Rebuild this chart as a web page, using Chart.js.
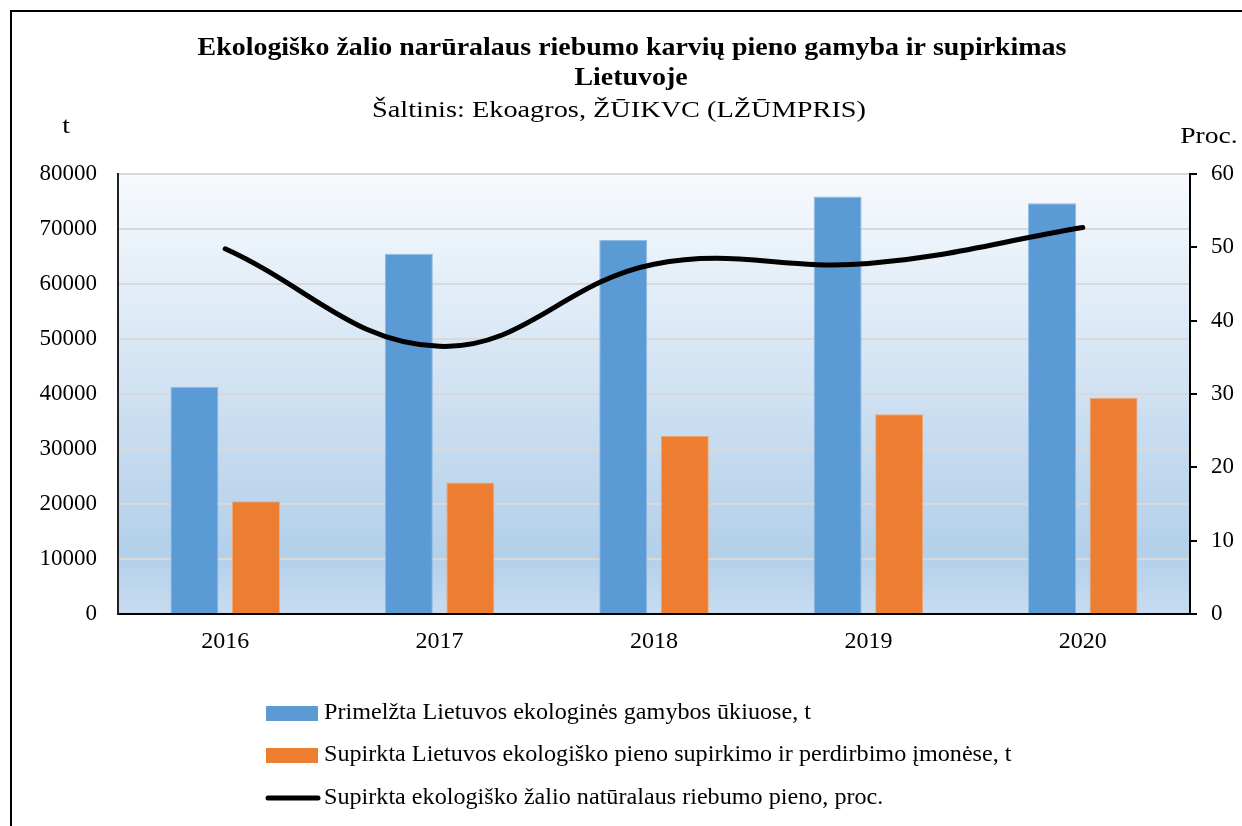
<!DOCTYPE html>
<html>
<head>
<meta charset="utf-8">
<script src="https://cdn.jsdelivr.net/npm/chart.js@4.4.1/dist/chart.umd.min.js"></script>
<style>
    body { margin: 0; background: #ffffff; }
</style>
</head>
<body>
<canvas id="pienas" width="1242" height="826"></canvas>
<script>
const years = ['2016', '2017', '2018', '2019', '2020'];
const primelzta = [41300, 65500, 68000, 75900, 74700];
const supirkta = [20500, 23900, 32400, 36300, 39300];
const procentai = [49.8, 36.5, 47.7, 47.8, 52.7];

const titleLines = ['Ekologiško žalio narūralaus riebumo karvių pieno gamyba ir supirkimas', 'Lietuvoje'];
const subtitle = 'Šaltinis: Ekoagros, ŽŪIKVC (LŽŪMPRIS)';
const legendNames = [
    'Primelžta Lietuvos ekologinės gamybos ūkiuose, t',
    'Supirkta Lietuvos ekologiško pieno supirkimo ir perdirbimo įmonėse, t',
    'Supirkta ekologiško žalio natūralaus riebumo pieno, proc.'
];

const serif = '"Liberation Serif", "Times New Roman", serif';

// text is a bit wider in the original, so stretch it sideways
function drawText(ctx, text, x, y, font, sx) {
    ctx.save();
    ctx.font = font;
    ctx.translate(x, y);
    ctx.scale(sx, 1);
    ctx.fillText(text, 0, 0);
    ctx.restore();
}

const decor = {
    id: 'decor',
    beforeDraw(chart) {
        const ctx = chart.ctx;
        const a = chart.chartArea;
        const g = ctx.createLinearGradient(0, a.top, 0, a.bottom);
        g.addColorStop(0, '#f7fafd');
        g.addColorStop(0.35, '#dce9f6');
        g.addColorStop(0.65, '#c3d9ee');
        g.addColorStop(0.87, '#b3d0ea');
        g.addColorStop(1, '#c8dcf0');
        ctx.save();
        ctx.fillStyle = g;
        ctx.fillRect(a.left, a.top, a.right - a.left, a.bottom - a.top);
        ctx.restore();
    },
    afterDraw(chart) {
        const ctx = chart.ctx;
        ctx.save();
        // frame
        ctx.strokeStyle = '#000';
        ctx.lineWidth = 2;
        ctx.beginPath();
        ctx.moveTo(11, 826);
        ctx.lineTo(11, 11);
        ctx.lineTo(1242, 11);
        ctx.stroke();

        ctx.fillStyle = '#000';
        ctx.textAlign = 'center';
        ctx.textBaseline = 'middle';
        drawText(ctx, titleLines[0], 632, 49, 'bold 25px ' + serif, 1.117);
        drawText(ctx, titleLines[1], 631, 79, 'bold 25px ' + serif, 1.117);
        drawText(ctx, subtitle, 619, 111, '24px ' + serif, 1.18);
        drawText(ctx, 't', 66, 127, '24px ' + serif, 1.15);
        drawText(ctx, 'Proc.', 1209, 137, '24px ' + serif, 1.15);

        // legend
        const ds = chart.data.datasets;
        const rows = [713, 755, 798];
        ctx.textAlign = 'left';
        for (let i = 0; i < 3; i++) {
            const d = ds[i];
            const y = rows[i];
            if (d.type === 'line') {
                ctx.strokeStyle = d.borderColor;
                ctx.lineWidth = 5;
                ctx.lineCap = 'round';
                ctx.beginPath();
                ctx.moveTo(268, y);
                ctx.lineTo(318, y);
                ctx.stroke();
            } else {
                ctx.fillStyle = d.backgroundColor;
                ctx.fillRect(266, y - 7, 52, 15);
            }
            ctx.fillStyle = '#000';
            drawText(ctx, legendNames[i], 324, y, '23px ' + serif, 1.05);
        }
        ctx.restore();
    }
};

new Chart(document.getElementById('pienas'), {
    type: 'bar',
    data: {
        labels: years,
        datasets: [{
            label: legendNames[0],
            data: primelzta,
            backgroundColor: '#5b9bd5',
            borderColor: '#8fbbe3',
            borderWidth: 1,
            yAxisID: 'y',
            order: 1,
            categoryPercentage: 0.574,
            barPercentage: 0.78
        }, {
            label: legendNames[1],
            data: supirkta,
            backgroundColor: '#ed7d31',
            borderColor: '#f3a673',
            borderWidth: 1,
            yAxisID: 'y',
            order: 2,
            categoryPercentage: 0.574,
            barPercentage: 0.78
        }, {
            type: 'line',
            label: legendNames[2],
            data: procentai,
            borderColor: '#000000',
            borderWidth: 5,
            borderCapStyle: 'round',
            tension: 0.4,
            pointRadius: 0,
            fill: false,
            yAxisID: 'y1',
            order: 0
        }]
    },
    options: {
        responsive: false,
        animation: false,
        layout: { padding: { top: 174, left: 0, right: 0, bottom: 0 } },
        plugins: {
            legend: { display: false },
            title: { display: false },
            tooltip: { enabled: false }
        },
        scales: {
            x: {
                grid: { display: false, drawTicks: false },
                border: { color: '#000', width: 2 },
                ticks: { color: '#000', padding: 13, font: { family: serif, size: 24 } },
                afterFit: function (scale) { scale.height = 212; }
            },
            y: {
                position: 'left',
                min: 0,
                max: 80000,
                ticks: {
                    stepSize: 10000, color: '#000', padding: 21, font: { family: serif, size: 23 },
                    callback: function (v) { return String(v); }
                },
                grid: { color: '#d9d9d9', lineWidth: 2, drawTicks: false },
                border: { color: '#222', width: 2 },
                afterFit: function (scale) { scale.width = 118; }
            },
            y1: {
                position: 'right',
                min: 0,
                max: 60,
                ticks: { stepSize: 10, color: '#000', padding: 14, font: { family: serif, size: 23 } },
                grid: { drawOnChartArea: false, drawTicks: true, tickLength: 7, color: '#000', lineWidth: 2 },
                border: { color: '#000', width: 2 },
                afterFit: function (scale) { scale.width = 52; }
            }
        }
    },
    plugins: [decor]
});
</script>
</body>
</html>
